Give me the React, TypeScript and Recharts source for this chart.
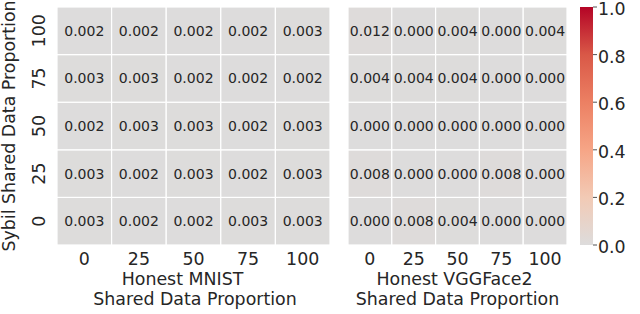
import React from "react";
import {
  ScatterChart,
  Scatter,
  XAxis,
  YAxis,
  BarChart,
  Bar,
} from "recharts";

// ---- data ----
const honestLabels = ["0", "25", "50", "75", "100"]; // columns, left -> right
const sybilLabels = ["0", "25", "50", "75", "100"]; // rows, bottom -> top
const colorbarTicks = [0, 0.2, 0.4, 0.6, 0.8, 1.0];

// MNIST heatmap rows (keyed by sybil proportion), columns = honest proportion
const mnistSybil100 = [0.002, 0.002, 0.002, 0.002, 0.003];
const mnistSybil75 = [0.003, 0.003, 0.002, 0.002, 0.002];
const mnistSybil50 = [0.002, 0.003, 0.003, 0.002, 0.003];
const mnistSybil25 = [0.003, 0.002, 0.003, 0.002, 0.003];
const mnistSybil0 = [0.003, 0.002, 0.002, 0.003, 0.003];

// VGGFace2 heatmap rows
const vggSybil100 = [0.012, 0.0, 0.004, 0.0, 0.004];
const vggSybil75 = [0.004, 0.004, 0.004, 0.0, 0.0];
const vggSybil50 = [0.0, 0.0, 0.0, 0.0, 0.0];
const vggSybil25 = [0.008, 0.0, 0.0, 0.008, 0.0];
const vggSybil0 = [0.0, 0.008, 0.004, 0.0, 0.0];

const mnistRows = [mnistSybil0, mnistSybil25, mnistSybil50, mnistSybil75, mnistSybil100];
const vggRows = [vggSybil0, vggSybil25, vggSybil50, vggSybil75, vggSybil100];

// ---- styling ----
const FONT = "'DejaVu Sans', Verdana, sans-serif";
const TEXT = "#262626";
const LABEL_FS = 17.4;
const H = 314;
const M_TOP = 7;
const X_AXIS_H = 69;
const PLOT_H = H - M_TOP - X_AXIS_H;

const cmapStops: [number, string][] = [
  [0.0, "#dddcdc"],
  [0.2, "#f2cab5"],
  [0.4, "#f6a586"],
  [0.6, "#ec8063"],
  [0.8, "#d95847"],
  [1.0, "#b40426"],
];

function hexToRgb(h: string) {
  const n = parseInt(h.slice(1), 16);
  return [(n >> 16) & 255, (n >> 8) & 255, n & 255];
}
function colorFor(v: number) {
  const t = Math.max(0, Math.min(1, v));
  for (let i = 0; i < cmapStops.length - 1; i++) {
    const [a, ca] = cmapStops[i];
    const [b, cb] = cmapStops[i + 1];
    if (t >= a && t <= b) {
      const f = (t - a) / (b - a);
      const A = hexToRgb(ca);
      const B = hexToRgb(cb);
      const c = A.map((x, k) => Math.round(x + (B[k] - x) * f));
      return `rgb(${c[0]},${c[1]},${c[2]})`;
    }
  }
  return cmapStops[cmapStops.length - 1][1];
}

function toPoints(rows: number[][]) {
  const pts: { x: number; y: number; v: number }[] = [];
  rows.forEach((row, yi) => row.forEach((v, xi) => pts.push({ x: xi, y: yi, v })));
  return pts;
}

const mnistData = toPoints(mnistRows);
const vggData = toPoints(vggRows);

function makeCell(cellW: number, cellH: number) {
  return (props: any) => {
    const { cx, cy, payload } = props;
    if (cx == null || cy == null) return <g />;
    return (
      <g>
        <rect
          x={cx - cellW / 2}
          y={cy - cellH / 2}
          width={cellW}
          height={cellH}
          fill={colorFor(payload.v)}
          stroke="#ffffff"
          strokeWidth={1.2}
        />
        <text
          x={cx}
          y={cy}
          textAnchor="middle"
          dominantBaseline="central"
          fontFamily={FONT}
          fontSize={14}
          fill={TEXT}
        >
          {payload.v.toFixed(3)}
        </text>
      </g>
    );
  };
}

const XTick = (props: any) => {
  const { x, y, payload } = props;
  return (
    <text x={x} y={y + 20} textAnchor="middle" fontFamily={FONT} fontSize={LABEL_FS} fill={TEXT}>
      {honestLabels[payload.value]}
    </text>
  );
};

const YTick = (props: any) => {
  const { x, y, payload } = props;
  const bx = x - 12;
  return (
    <text
      x={bx}
      y={y}
      transform={`rotate(-90 ${bx} ${y})`}
      textAnchor="middle"
      fontFamily={FONT}
      fontSize={LABEL_FS}
      fill={TEXT}
    >
      {sybilLabels[payload.value]}
    </text>
  );
};

const CbTick = (props: any) => {
  const { x, y, payload } = props;
  return (
    <text
      x={x}
      y={y + 2}
      textAnchor="start"
      dominantBaseline="central"
      fontFamily={FONT}
      fontSize={LABEL_FS}
      fill={TEXT}
    >
      {Number(payload.value).toFixed(1)}
    </text>
  );
};

function xLabel(line1: string, dx1: number, line2: string, dx2: number) {
  return (props: any) => {
    const vb = props.viewBox || {};
    const cx = vb.x + vb.width / 2;
    return (
      <g>
        <text x={cx + dx1} y={vb.y + 40} textAnchor="middle" fontFamily={FONT} fontSize={LABEL_FS} fill={TEXT}>
          {line1}
        </text>
        <text x={cx + dx2} y={vb.y + 60} textAnchor="middle" fontFamily={FONT} fontSize={LABEL_FS} fill={TEXT}>
          {line2}
        </text>
      </g>
    );
  };
}

const yLabel = (props: any) => {
  const vb = props.viewBox || {};
  const x = vb.x + 15;
  const y = vb.y + vb.height / 2;
  return (
    <text
      x={x}
      y={y}
      transform={`rotate(-90 ${x} ${y})`}
      textAnchor="middle"
      fontFamily={FONT}
      fontSize={LABEL_FS}
      fill={TEXT}
    >
      Sybil Shared Data Proportion
    </text>
  );
};

const idx = [0, 1, 2, 3, 4];

export default function App() {
  const leftW = 340;
  const leftPlotW = leftW - 57 - 10;
  const rightW = 230;
  const rightPlotW = rightW - 8 - 3;
  return (
    <div style={{ position: "absolute", left: 0, top: 0, width: 640, height: 314, background: "#fff" }}>
      <div style={{ position: "absolute", left: 0, top: 0 }}>
        <ScatterChart width={leftW} height={H} margin={{ top: M_TOP, right: 10, bottom: 0, left: 0 }}>
          <XAxis
            type="number"
            dataKey="x"
            domain={[-0.5, 4.5]}
            ticks={idx}
            allowDataOverflow
            height={X_AXIS_H}
            axisLine={false}
            tickLine={false}
            tickSize={0}
            tickMargin={0}
            tick={<XTick />}
            interval={0}
            label={{ content: xLabel("Honest MNIST", -11, "Shared Data Proportion", 1.5) } as any}
          />
          <YAxis
            type="number"
            dataKey="y"
            domain={[-0.5, 4.5]}
            ticks={idx}
            allowDataOverflow
            width={57}
            axisLine={false}
            tickLine={false}
            tickSize={0}
            tickMargin={0}
            tick={<YTick />}
            interval={0}
            label={{ content: yLabel } as any}
          />
          <Scatter
            data={mnistData}
            isAnimationActive={false}
            shape={makeCell(leftPlotW / 5, PLOT_H / 5)}
          />
        </ScatterChart>
      </div>
      <div style={{ position: "absolute", left: 340, top: 0 }}>
        <ScatterChart width={rightW} height={H} margin={{ top: M_TOP, right: 3, bottom: 0, left: 8 }}>
          <XAxis
            type="number"
            dataKey="x"
            domain={[-0.5, 4.5]}
            ticks={idx}
            allowDataOverflow
            height={X_AXIS_H}
            axisLine={false}
            tickLine={false}
            tickSize={0}
            tickMargin={0}
            tick={<XTick />}
            interval={0}
            label={{ content: xLabel("Honest VGGFace2", -3, "Shared Data Proportion", 0) } as any}
          />
          <YAxis type="number" dataKey="y" domain={[-0.5, 4.5]} allowDataOverflow hide />
          <Scatter
            data={vggData}
            isAnimationActive={false}
            shape={makeCell(rightPlotW / 5, PLOT_H / 5)}
          />
        </ScatterChart>
      </div>
      <div style={{ position: "absolute", left: 570, top: 0 }}>
        <BarChart
          width={70}
          height={H}
          data={[{ name: "cb", v: 1 }]}
          margin={{ top: M_TOP, right: 0, bottom: X_AXIS_H, left: 10 }}
          barCategoryGap={0}
        >
          <defs>
            <linearGradient id="cbgrad" x1="0" y1="1" x2="0" y2="0">
              {cmapStops.map(([o, c]) => (
                <stop key={o} offset={`${o * 100}%`} stopColor={c} />
              ))}
            </linearGradient>
          </defs>
          <XAxis dataKey="name" hide />
          <YAxis
            orientation="right"
            type="number"
            domain={[0, 1]}
            ticks={colorbarTicks}
            interval={0}
            width={47}
            axisLine={false}
            tickLine={{ stroke: TEXT, strokeWidth: 0.8 }}
            tickSize={4}
            tickMargin={1}
            tick={<CbTick />}
          />
          <Bar dataKey="v" fill="url(#cbgrad)" isAnimationActive={false} />
        </BarChart>
      </div>
    </div>
  );
}
